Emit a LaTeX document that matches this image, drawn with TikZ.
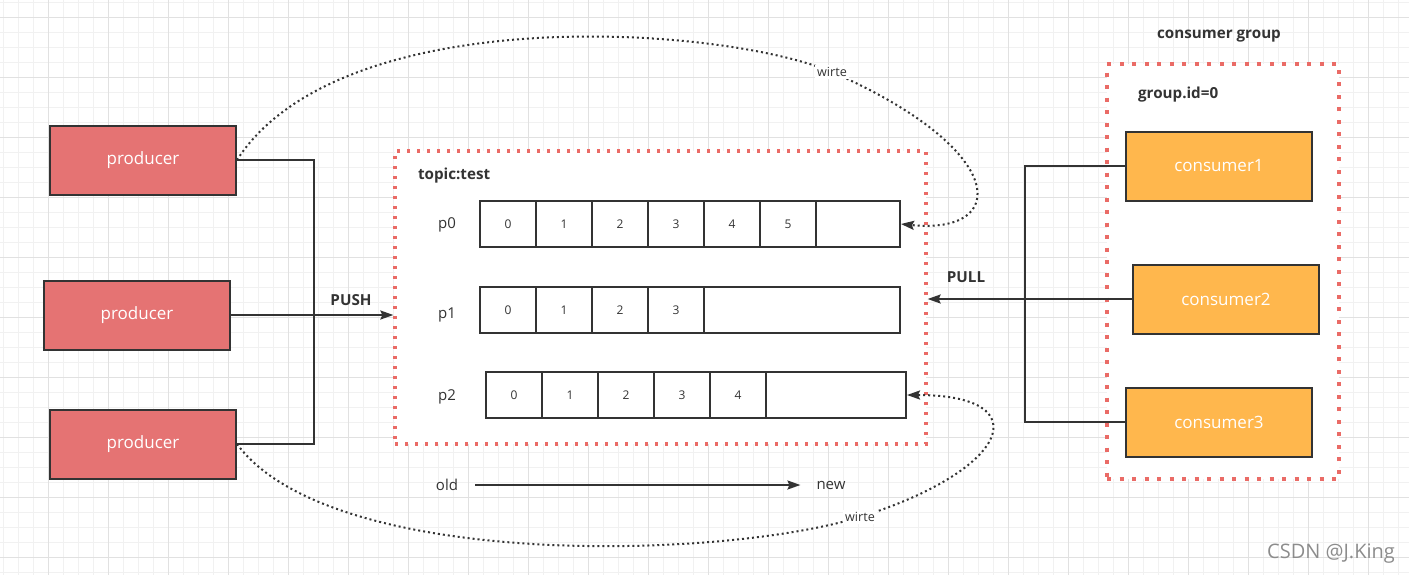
\documentclass[tikz,border=0pt]{standalone}
\usepackage{fontspec}
\setmainfont{Open Sans}
\usetikzlibrary{arrows.meta}
\definecolor{prodred}{RGB}{229,115,115}
\definecolor{consorange}{RGB}{255,183,77}
\definecolor{boxred}{RGB}{234,107,102}
\definecolor{linedark}{RGB}{51,51,51}
\definecolor{gridminor}{RGB}{241,241,241}
\definecolor{gridmajor}{RGB}{225,225,225}

\begin{document}
\begin{tikzpicture}[x=0.5pt, y=-0.5pt,
    producer/.style={draw=linedark, line width=1pt, fill=prodred, text=white,
                     minimum width=93pt, minimum height=34.5pt, font=\fontsize{8.5}{10}\selectfont},
    consumer/.style={producer, fill=consorange},
    topicbox/.style={draw=boxred, fill=white, line width=1.65pt, dash pattern=on 1.65pt off 3.35pt},
    groupbox/.style={draw=boxred, fill=white, line width=2pt, dash pattern=on 2pt off 4.25pt},
    cell/.style={draw=linedark, line width=1pt, minimum width=28pt, minimum height=23pt,
                 inner sep=0pt, text=linedark, font=\fontsize{6}{7}\selectfont},
    tag/.style={text=linedark, font=\bfseries\fontsize{7.6}{9}\selectfont},
    plabel/.style={text=linedark, font=\fontsize{7.5}{9}\selectfont},
    wlabel/.style={fill=white, inner sep=1pt, text=linedark, font=\fontsize{6.3}{7}\selectfont},
    arr/.style={draw=linedark, line width=1pt, -{Stealth[length=6.5pt, width=4.5pt, inset=1pt]}},
    flow/.style={draw=linedark, line width=1pt},
    wflow/.style={arr, line width=1pt, dash pattern=on 1pt off 1.5pt}]
  \useasboundingbox (0,0) rectangle (1409,575);
  % grid
  \foreach \gx in {3,18,...,1408} \draw[gridminor, line width=0.5pt] (\gx,0) -- (\gx,575);
  \foreach \gy in {2,17,...,575} \draw[gridminor, line width=0.5pt] (0,\gy) -- (1409,\gy);
  \foreach \gx in {48,108,...,1408} \draw[gridmajor, line width=0.5pt] (\gx,0) -- (\gx,575);
  \foreach \gy in {17,77,...,575} \draw[gridmajor, line width=0.5pt] (0,\gy) -- (1409,\gy);

  % producers
  \node[producer] (prod1) at (143,160) {producer};
  \node[producer] (prod2) at (137,315) {producer};
  \node[producer] (prod3) at (143,444) {producer};

  % topic
  \node[topicbox, minimum width=265.5pt, minimum height=146.5pt] (topic) at (660.5,297.5) {};
  \node[tag, anchor=west] (topicname) at (411,176) {topic:test};
  \node[plabel] (p0) at (447,225) {p0};
  \node[plabel] (p1) at (447,315) {p1};
  \node[plabel] (p2) at (447,397) {p2};
  \foreach \i in {0,...,5} \node[cell] (p0c\i) at ({508+56*\i},224) {\i};
  \node[cell, minimum width=42pt] (p0e) at (858,224) {};
  \foreach \i in {0,...,3} \node[cell] (p1c\i) at ({508+56*\i},310) {\i};
  \node[cell, minimum width=98pt] (p1e) at (802,310) {};
  \foreach \i in {0,...,4} \node[cell] (p2c\i) at ({514+56*\i},395) {\i};
  \node[cell, minimum width=70pt] (p2e) at (836,395) {};

  % old -> new
  \node[plabel] (old) at (447,485) {old};
  \node[plabel] (new) at (831,485) {new};
  \draw[arr, shorten <=5pt, shorten >=4.5pt] (old) -- (new);

  % consumer group
  \node[tag] (groupname) at (1219,36) {consumer group};
  \node[groupbox, minimum width=116pt, minimum height=207.5pt] (group) at (1223,271.5) {};
  \node[tag, anchor=west] (groupid) at (1131,95) {group.id=0};
  \node[consumer] (cons1) at (1219,166) {consumer1};
  \node[consumer] (cons2) at (1226,299) {consumer2};
  \node[consumer] (cons3) at (1219,422) {consumer3};

  % push
  \coordinate (pushjoin) at (314,315);
  \draw[flow] (prod1.east) -| (pushjoin) |- (prod3.east);
  \draw[arr] (prod2.east) -- (topic.west |- prod2.east);
  \node[tag] (push) at (351,300) {PUSH};

  % pull
  \coordinate (pulljoin) at (1025,299);
  \draw[flow] (cons1.west) -| (pulljoin) |- (cons3.west);
  \draw[arr] (cons2.west) -- (topic.east |- cons2.west);
  \node[tag] (pull) at (966,277) {PULL};

  % writes
  \draw[wflow] (prod1.east) .. controls (340,0) and (720,25) .. (832,72)
               .. controls (1010,150) and (1010,235) .. (p0e.east);
  \node[wlabel] (write1) at (832,72) {wirte};
  \draw[wflow] (prod3.east) .. controls (330,570) and (720,560) .. (860,517)
               .. controls (1010,470) and (1040,395) .. (p2e.east);
  \node[wlabel] (write2) at (860,517) {wirte};

  \node[text=black!45, font=\fontsize{10}{12}\selectfont] (mark) at (1331,554) {CSDN @J.King};
\end{tikzpicture}
\end{document}
